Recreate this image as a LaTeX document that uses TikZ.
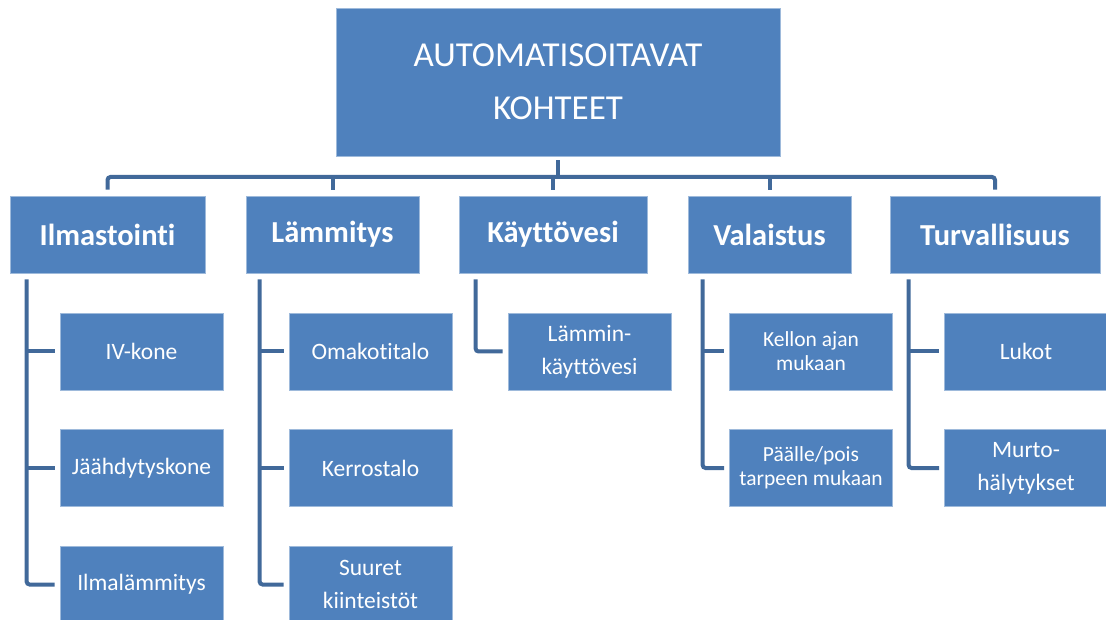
\documentclass[tikz,border=0pt]{standalone}
\usepackage{fontspec}
\setmainfont{Carlito}[Ligatures=NoCommon]
\definecolor{boxblue}{HTML}{4F81BD}
\definecolor{linkblue}{HTML}{41699A}

\tikzset{
  basebox/.style={draw=boxblue!55!white, line width=0.8pt, fill=boxblue,
    text=white, inner sep=0pt, align=center},
  topbox/.style={basebox, minimum width=444pt, minimum height=148pt,
    font=\fontsize{35}{53}\selectfont},
  catbox/.style={basebox, minimum height=77pt,
    font=\bfseries\fontsize{30.5}{34}\selectfont},
  itembox/.style={basebox, minimum width=163pt, minimum height=77pt,
    font=\fontsize{23.5}{33}\selectfont},
  smallitem/.style={itembox, font=\fontsize{21.5}{24}\selectfont},
  link/.style={draw=linkblue, line width=4pt, rounded corners=3pt},
}

\begin{document}
\begin{tikzpicture}[x=1pt, y=-1pt]
\useasboundingbox (0,0) rectangle (1106,620);

% top
\node[topbox] (top) at (558,82) {AUTOMATISOITAVAT\\KOHTEET};

% categories
\node[catbox, minimum width=195pt] (ilm) at (107.5,234.5) {Ilmastointi};
\node[catbox, minimum width=173pt] (lam) at (332.5,234.5) {Lämmitys};
\node[catbox, minimum width=188pt] (kay) at (553,234.5) {Käyttövesi};
\node[catbox, minimum width=163pt] (val) at (769.5,234.5) {Valaistus};
\node[catbox, minimum width=210pt] (tur) at (995,234.5) {Turvallisuus};

% bus
\coordinate (bus) at (558,177);
\draw[link] ([yshift=-4pt]top.south) -- (bus);
\draw[link] ([yshift=6pt]ilm.north) |- (bus) -| ([yshift=6pt]tur.north);
\draw[link] ([yshift=6pt]lam.north) -- (lam.north |- bus);
\draw[link] ([yshift=6pt]kay.north) -- (kay.north |- bus);
\draw[link] ([yshift=6pt]val.north) -- (val.north |- bus);

% items
\node[itembox] (ilm1) at (141.5,351.5) {IV-kone};
\node[itembox] (ilm2) at (141.5,468) {Jäähdytyskone};
\node[itembox] (ilm3) at (141.5,584.5) {Ilmalämmitys};

\node[itembox] (lam1) at (370.5,351.5) {Omakotitalo};
\node[itembox] (lam2) at (370.5,468) {Kerrostalo};
\node[itembox] (lam3) at (370.5,584.5) {Suuret\\kiinteistöt};

\node[itembox] (kay1) at (589.5,351.5) {Lämmin-\\käyttövesi};

\node[smallitem] (val1) at (811,351.5) {Kellon ajan\\mukaan};
\node[smallitem] (val2) at (811,468) {Päälle/pois\\tarpeen mukaan};

\node[itembox] (tur1) at (1026,351.5) {Lukot};
\node[itembox] (tur2) at (1026,468) {Murto-\\hälytykset};

% stems
\coordinate (ilmstem) at ([xshift=17pt,yshift=-6pt]ilm.south west);
\coordinate (lamstem) at ([xshift=14pt,yshift=-6pt]lam.south west);
\coordinate (kaystem) at ([xshift=17pt,yshift=-6pt]kay.south west);
\coordinate (valstem) at ([xshift=15pt,yshift=-6pt]val.south west);
\coordinate (turstem) at ([xshift=19pt,yshift=-6pt]tur.south west);

\draw[link] (ilmstem) |- ([xshift=-5pt]ilm3.west);
\draw[link] (ilmstem |- ilm1.west) -- ([xshift=-5pt]ilm1.west);
\draw[link] (ilmstem |- ilm2.west) -- ([xshift=-5pt]ilm2.west);

\draw[link] (lamstem) |- ([xshift=-5pt]lam3.west);
\draw[link] (lamstem |- lam1.west) -- ([xshift=-5pt]lam1.west);
\draw[link] (lamstem |- lam2.west) -- ([xshift=-5pt]lam2.west);

\draw[link] (kaystem) |- ([xshift=-5pt]kay1.west);

\draw[link] (valstem) |- ([xshift=-5pt]val2.west);
\draw[link] (valstem |- val1.west) -- ([xshift=-5pt]val1.west);

\draw[link] (turstem) |- ([xshift=-5pt]tur2.west);
\draw[link] (turstem |- tur1.west) -- ([xshift=-5pt]tur1.west);

\end{tikzpicture}
\end{document}
